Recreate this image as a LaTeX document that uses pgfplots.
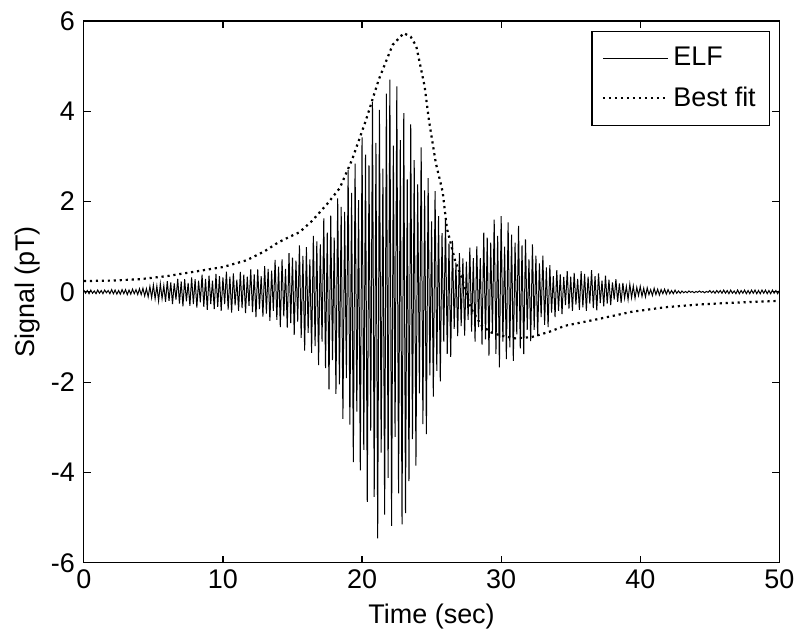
\documentclass[border=0pt]{standalone}
\usepackage{pgfplots}
\pgfplotsset{compat=1.18}
\usepackage{fontspec}
\setmainfont{Liberation Sans}
\pgfplotstableread{
t y
0 0.04
0.125 -0.03
0.25 0.03
0.375 -0.04
0.5 0.04
0.625 -0.03
0.75 0.02
0.875 -0.04
1 0.04
1.125 -0.03
1.25 0.03
1.375 -0.04
1.5 0.04
1.625 -0.02
1.75 0.03
1.875 -0.04
2 0.05
2.125 -0.04
2.25 0.04
2.375 -0.05
2.5 0.03
2.625 -0.05
2.75 0.05
2.875 -0.04
3 0.05
3.125 -0.06
3.25 0.04
3.375 -0.05
3.5 0.06
3.625 -0.04
3.75 0.05
3.875 -0.06
4 0.07
4.125 -0.06
4.25 0.08
4.375 -0.09
4.5 0.07
4.625 -0.11
4.75 0.12
4.875 -0.13
5 0.15
5.125 -0.15
5.25 0.13
5.375 -0.20
5.5 0.18
5.625 -0.15
5.75 0.14
5.875 -0.22
6 0.24
6.125 -0.20
6.25 0.21
6.375 -0.27
6.5 0.19
6.625 -0.17
6.75 0.29
6.875 -0.26
7 0.23
7.125 -0.32
7.25 0.28
7.375 -0.21
7.5 0.20
7.625 -0.31
7.75 0.32
7.875 -0.27
8 0.28
8.125 -0.35
8.25 0.25
8.375 -0.23
8.5 0.38
8.625 -0.33
8.75 0.29
8.875 -0.40
9 0.36
9.125 -0.27
9.25 0.25
9.375 -0.38
9.5 0.40
9.625 -0.33
9.75 0.35
9.875 -0.42
10 0.32
10.125 -0.27
10.25 0.45
10.375 -0.39
10.5 0.34
10.625 -0.46
10.75 0.41
10.875 -0.30
11 0.27
11.125 -0.42
11.25 0.44
11.375 -0.36
11.5 0.38
11.625 -0.47
11.75 0.34
11.875 -0.31
12 0.50
12.125 -0.45
12.25 0.39
12.375 -0.56
12.5 0.50
12.625 -0.38
12.75 0.35
12.875 -0.55
13 0.57
13.125 -0.48
13.25 0.51
13.375 -0.64
13.5 0.47
13.625 -0.42
13.75 0.71
13.875 -0.62
14 0.56
14.125 -0.78
14.25 0.72
14.375 -0.54
14.5 0.51
14.625 -0.79
14.75 0.86
14.875 -0.69
15 0.76
15.125 -0.95
15.25 0.69
15.375 -0.66
15.5 1.03
15.625 -1.02
15.75 0.80
15.875 -1.30
16 0.99
16.125 -0.91
16.25 0.72
16.375 -1.35
16.5 1.24
16.625 -1.20
16.75 1.12
16.875 -1.62
17 1.05
17.125 -1.10
17.25 1.63
17.375 -1.69
17.5 1.31
17.625 -2.16
17.75 1.69
17.875 -1.51
18 1.20
18.125 -2.26
18.25 2.07
18.375 -2.05
18.5 1.88
18.625 -2.81
18.75 1.77
18.875 -1.91
19 2.70
19.125 -2.94
19.25 2.19
19.375 -3.77
19.5 2.84
19.625 -2.65
19.75 2.03
19.875 -3.95
20 3.42
20.125 -3.50
20.25 3.04
20.375 -4.65
20.5 2.80
20.625 -3.07
20.75 4.20
20.875 -4.54
21 3.30
21.125 -5.46
21.25 4.03
21.375 -3.56
21.5 2.73
21.625 -4.93
21.75 4.39
21.875 -4.12
22 4.70
22.125 -5.18
22.25 3.24
22.375 -3.21
22.5 4.55
22.625 -4.46
22.75 3.36
22.875 -5.15
23 3.96
23.125 -4.90
23.25 2.49
23.375 -4.19
23.5 3.71
23.625 -3.26
23.75 2.92
23.875 -3.85
24 2.38
24.125 -2.25
24.25 3.20
24.375 -2.93
24.5 2.25
24.625 -3.15
24.75 2.52
24.875 -1.85
25 1.56
25.125 -2.32
25.25 2.23
25.375 -1.75
25.5 1.68
25.625 -1.98
25.75 1.30
25.875 -1.10
26 1.60
26.125 -1.37
26.25 1.07
26.375 -1.44
26.5 1.13
26.625 -0.82
26.75 0.65
26.875 -0.98
27 0.86
27.125 -0.76
27.25 0.74
27.375 -0.97
27.5 0.67
27.625 -0.62
27.75 0.98
27.875 -0.88
28 0.75
28.125 -1.10
28.25 1.01
28.375 -0.78
28.5 0.75
28.625 -1.17
28.75 1.31
28.875 -1.05
29 1.20
29.125 -1.41
29.25 1.09
29.375 -0.92
29.5 1.60
29.625 -1.37
29.75 1.24
29.875 -1.67
30 1.68
30.125 -1.10
30.25 1.00
30.375 -1.49
30.5 1.54
30.625 -1.23
30.75 1.27
30.875 -1.53
31 1.09
31.125 -0.94
31.25 1.46
31.375 -1.25
31.5 1.03
31.625 -1.38
31.75 1.16
31.875 -0.84
32 0.72
32.125 -1.09
32.25 1.05
32.375 -0.84
32.5 0.80
32.625 -0.98
32.75 0.63
32.875 -0.56
33 0.80
33.125 -0.73
33.25 0.54
33.375 -0.78
33.5 0.59
33.625 -0.46
33.75 0.35
33.875 -0.56
34 0.48
34.125 -0.42
34.25 0.39
34.375 -0.49
34.5 0.33
34.625 -0.29
34.75 0.46
34.875 -0.37
35 0.34
35.125 -0.42
35.25 0.42
35.375 -0.28
35.5 0.29
35.625 -0.40
35.75 0.46
35.875 -0.34
36 0.40
36.125 -0.42
36.25 0.34
36.375 -0.26
36.5 0.48
36.625 -0.36
36.75 0.35
36.875 -0.41
37 0.41
37.125 -0.25
37.25 0.25
37.375 -0.32
37.5 0.36
37.625 -0.26
37.75 0.27
37.875 -0.29
38 0.21
38.125 -0.17
38.25 0.28
38.375 -0.22
38.5 0.19
38.625 -0.24
38.75 0.20
38.875 -0.14
39 0.12
39.125 -0.17
39.25 0.17
39.375 -0.13
39.5 0.13
39.625 -0.14
39.75 0.10
39.875 -0.08
40 0.12
40.125 -0.10
40.25 0.08
40.375 -0.11
40.5 0.09
40.625 -0.06
40.75 0.05
40.875 -0.08
41 0.08
41.125 -0.06
41.25 0.06
41.375 -0.07
41.5 0.05
41.625 -0.04
41.75 0.06
41.875 -0.05
42 0.05
42.125 -0.04
42.25 0.03
42.375 -0.04
42.5 0.04
42.625 -0.03
42.75 0.02
42.875 -0.03
43 0.02
43.125 -0.02
43.25 0.01
43.375 -0.02
43.5 0.02
43.625 -0.01
43.75 0.01
43.875 -0.02
44 0.01
44.125 -0.01
44.25 0.02
44.375 -0.01
44.5 0.01
44.625 -0.02
44.75 0.01
44.875 -0.01
45 0.03
45.125 -0.02
45.25 0.02
45.375 -0.03
45.5 0.03
45.625 -0.02
45.75 0.03
45.875 -0.03
46 0.04
46.125 -0.03
46.25 0.03
46.375 -0.04
46.5 0.04
46.625 -0.03
46.75 0.02
46.875 -0.04
47 0.04
47.125 -0.04
47.25 0.03
47.375 -0.03
47.5 0.04
47.625 -0.04
47.75 0.03
47.875 -0.04
48 0.04
48.125 -0.03
48.25 0.04
48.375 -0.04
48.5 0.03
48.625 -0.04
48.75 0.04
48.875 -0.03
49 0.04
49.125 -0.04
49.25 0.03
49.375 -0.04
49.5 0.04
49.625 -0.03
49.75 0.03
49.875 -0.04
50 0.03
}\elf
\pgfplotstableread{
t y
0 0.24
2 0.25
4 0.28
6 0.35
8 0.45
10 0.55
11.7 0.70
13 0.90
14 1.10
15 1.25
15.5 1.32
16.4 1.57
17.5 1.95
18.4 2.30
19.3 2.94
20.3 3.82
21.2 4.70
22.2 5.47
23.0 5.73
23.5 5.65
23.9 5.44
24.5 4.55
24.8 3.82
25.3 2.86
25.8 2.21
26.1 1.41
26.7 0.68
27.2 0.29
27.8 -0.35
28.6 -0.75
29.3 -0.90
30 -0.97
31 -1.03
32.2 -1.00
33.5 -0.88
34.6 -0.75
37 -0.60
39.4 -0.44
41.8 -0.34
44.2 -0.28
46.6 -0.24
50 -0.20
}\fit
\begin{document}
\begin{tikzpicture}
\begin{axis}[
  scale only axis,
  width=348.5pt, height=271.5pt,
  xmin=0, xmax=50, ymin=-6, ymax=6,
  xtick={0,10,...,50}, ytick={-6,-4,...,6},
  tick align=inside,
  major tick length=3.5pt,
  axis line style={line width=0.6pt},
  every tick/.style={line width=0.6pt, black},
  tick label style={font=\fontsize{13.5}{16}\selectfont},
  yticklabel style={xshift=-1pt},
  /pgf/number format/assume math mode=true,
  xlabel={Time (sec)}, ylabel={Signal (pT)},
  label style={font=\fontsize{13.5}{16}\selectfont},
  xlabel style={at={(axis description cs:0.5,-0.099)}, anchor=center},
  ylabel style={at={(axis description cs:-0.0803,0.5)}, anchor=center},
  legend style={at={(0.987,0.982)}, anchor=north east, draw=black, line width=0.6pt,
    font=\fontsize{13.5}{16}\selectfont, inner xsep=5pt, inner ysep=6pt, row sep=5pt,
    legend cell align=left},
  legend image code/.code={\draw[#1] (0cm,0cm) -- (1.15cm,0cm);},
]
\addplot[black, line width=0.5pt] table[x=t,y=y] {\elf};
\addlegendentry{ELF}
\addplot[black, line width=1.1pt, dash pattern=on 1.1pt off 1.9pt] table[x=t,y=y] {\fit};
\addlegendentry{Best fit}
\end{axis}
\path (current axis.south west) ++(-42pt,-40.5pt) rectangle ++(400.5pt,322.5pt);
\end{tikzpicture}
\end{document}
